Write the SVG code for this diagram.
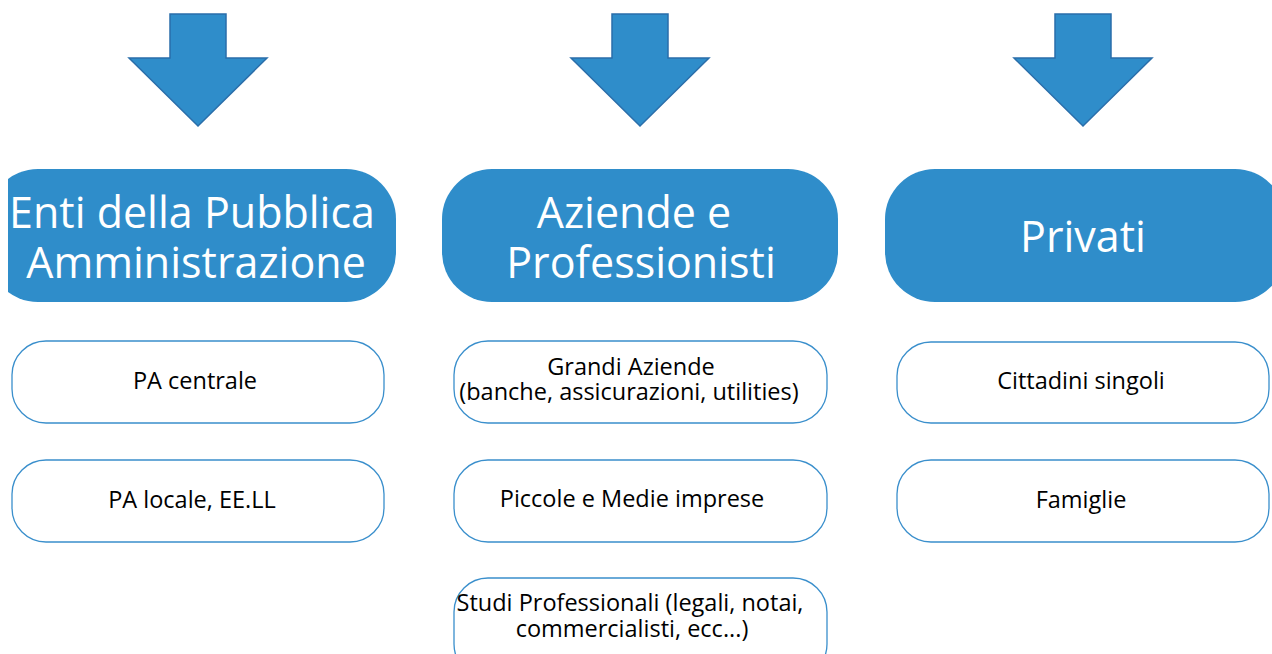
<svg xmlns="http://www.w3.org/2000/svg" width="1272" height="654" viewBox="0 0 1272 654">
<style>
.arrow{fill:#2F8DCA;stroke:#2A6EAA;stroke-width:1.5;stroke-linejoin:miter}
.head{fill:#2F8DCA}
.ht{fill:#fff;font-family:"Open Sans","Noto Sans",sans-serif;font-size:43px;text-anchor:middle}
.sub{fill:#fff;stroke:#3A8FCC;stroke-width:1.3}
.st{fill:#000;font-family:"Open Sans","Noto Sans",sans-serif;font-size:23.5px;text-anchor:middle}
</style>
<defs>
<clipPath id="page"><rect x="8" y="0" width="1264" height="654"/></clipPath>
</defs>
<g id="connectors">
<polygon class="arrow" points="170,14 226,14 226,58 267,58 198,126 129,58 170,58"/>
<polygon class="arrow" points="612,14 668,14 668,58 709,58 640,126 571,58 612,58"/>
<polygon class="arrow" points="1055,14 1111,14 1111,58 1152,58 1083,126 1014,58 1055,58"/>
</g>
<g id="head-pa" clip-path="url(#page)">
<rect class="head" x="-12" y="169" width="408" height="133" rx="50"/>
<text class="ht" x="192" y="228">Enti della Pubblica</text>
<text class="ht" x="196" y="278">Amministrazione</text>
</g>
<g id="head-aziende">
<rect class="head" x="442" y="169" width="396" height="133" rx="50"/>
<text class="ht" x="634" y="228">Aziende e</text>
<text class="ht" x="641" y="278">Professionisti</text>
</g>
<g id="head-privati">
<rect class="head" x="885" y="169" width="400" height="133" rx="50"/>
<text class="ht" x="1083" y="252">Privati</text>
</g>
<g id="pa-centrale">
<rect class="sub" x="12" y="341" width="372" height="82" rx="34"/>
<text class="st" x="195" y="389">PA centrale</text>
</g>
<g id="pa-locale">
<rect class="sub" x="12" y="460" width="372" height="82" rx="34"/>
<text class="st" x="192" y="508">PA locale, EE.LL</text>
</g>
<g id="grandi-aziende">
<rect class="sub" x="454" y="341" width="373" height="82" rx="34"/>
<text class="st" x="631" y="375">Grandi Aziende</text>
<text class="st" x="629" y="400">(banche, assicurazioni, utilities)</text>
</g>
<g id="pmi">
<rect class="sub" x="454" y="460" width="373" height="82" rx="34"/>
<text class="st" x="632" y="507">Piccole e Medie imprese</text>
</g>
<g id="studi">
<rect class="sub" x="454" y="578" width="373" height="100" rx="34"/>
<text class="st" x="630" y="611">Studi Professionali (legali, notai,</text>
<text class="st" x="632" y="637">commercialisti, ecc...)</text>
</g>
<g id="cittadini">
<rect class="sub" x="897" y="342" width="372" height="81" rx="34"/>
<text class="st" x="1081" y="389">Cittadini singoli</text>
</g>
<g id="famiglie">
<rect class="sub" x="897" y="460" width="372" height="82" rx="34"/>
<text class="st" x="1081" y="508">Famiglie</text>
</g>
</svg>
